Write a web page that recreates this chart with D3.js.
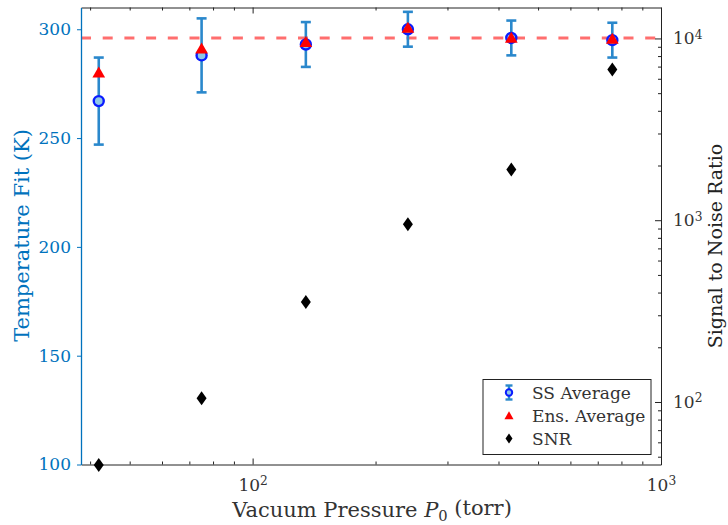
<!DOCTYPE html>
<html>
<head>
<meta charset="utf-8">
<script src="https://cdn.jsdelivr.net/npm/d3@7"></script>
<style>
  html, body { margin: 0; padding: 0; background: #fff; }
</style>
</head>
<body>
<svg id="chart" width="728" height="525"></svg>
<script>
// Measured chamber pressures (torr)
const pressure = [42, 75, 135, 240, 430, 760];
// Single-shot average temperature fits and their spread (K)
const ssAverage = [267, 288, 293, 300, 296, 295];
const ssError = [20, 17, 10.3, 8, 8, 8];
// Ensemble-average temperature fits (K)
const ensAverage = [280, 291, 294, 300.5, 296, 295.5];
// Signal to noise ratio for each pressure
const snr = [45, 105, 355, 950, 1900, 6750];
// Room temperature reference (K)
const referenceTemp = 296;

const tempTicks = [100, 150, 200, 250, 300];
const snrTicks = [100, 1000, 10000];
const pressureTicks = [100, 1000];
const legendLabels = ["SS Average", "Ens. Average", "SNR"];

const FONT = "'DejaVu Serif', serif";
const axisBlue = "#0072BD";
const barBlue = "#2a88cc";

const svg = d3.select("#chart");
const m = { left: 81, right: 661, top: 7.5, bottom: 464.5 };

const x = d3.scaleLog().domain([38, 1000]).range([m.left, m.right]);
const yT = d3.scaleLinear().domain([100, 310]).range([m.bottom, m.top]);
const yS = d3.scaleLog().domain([45.3, 14800]).range([m.bottom, m.top]);

// minor tick values for log axes
function minorTicks(scale) {
  const [a, b] = scale.domain();
  const out = [];
  for (let e = Math.floor(Math.log10(a)); e <= Math.ceil(Math.log10(b)); e++) {
    for (let k = 2; k <= 9; k++) {
      const v = k * Math.pow(10, e);
      if (v >= a && v <= b) out.push(v);
    }
  }
  return out;
}

function supLabel(sel) {
  sel.each(function(d) {
    const t = d3.select(this);
    t.text(null);
    t.append("tspan").text("10");
    t.append("tspan").attr("dy", "-0.45em").attr("font-size", "0.72em").text(Math.round(Math.log10(d)));
  });
}

const g = svg.append("g");

// reference line
g.append("line")
  .attr("x1", m.left).attr("x2", m.right)
  .attr("y1", yT(referenceTemp)).attr("y2", yT(referenceTemp))
  .attr("stroke", "#ff5555").attr("stroke-opacity", 0.85)
  .attr("stroke-width", 3).attr("stroke-dasharray", "10,11.7");

// bottom axis
const xAxis = g.append("g").attr("transform", `translate(0,${m.bottom})`)
  .call(d3.axisBottom(x).tickValues(pressureTicks).tickSize(-6).tickSizeOuter(0).tickPadding(10).tickFormat(() => ""));
xAxis.selectAll(".tick text").call(supLabel);
xAxis.selectAll("text").attr("font-size", 17).attr("fill", "#333").attr("dy", "0.95em");
xAxis.select(".domain").attr("stroke", "#222");
xAxis.selectAll("line").attr("stroke", "#222");
g.append("g").attr("transform", `translate(0,${m.bottom})`)
  .call(d3.axisBottom(x).tickValues(minorTicks(x)).tickSize(-3).tickFormat(() => ""))
  .call(s => { s.select(".domain").remove(); s.selectAll("line").attr("stroke", "#222"); });

// top axis
g.append("g").attr("transform", `translate(0,${m.top})`)
  .call(d3.axisTop(x).tickValues(pressureTicks).tickSize(-6).tickSizeOuter(0).tickFormat(() => ""))
  .call(s => { s.select(".domain").attr("stroke", "#222"); s.selectAll("line").attr("stroke", "#222"); });
g.append("g").attr("transform", `translate(0,${m.top})`)
  .call(d3.axisTop(x).tickValues(minorTicks(x)).tickSize(-3).tickFormat(() => ""))
  .call(s => { s.select(".domain").remove(); s.selectAll("line").attr("stroke", "#222"); });

// left axis (temperature)
const yAxisL = g.append("g").attr("transform", `translate(${m.left},0)`)
  .call(d3.axisLeft(yT).tickValues(tempTicks).tickSize(4).tickSizeOuter(0).tickPadding(6));
yAxisL.select(".domain").attr("stroke", axisBlue).attr("stroke-width", 1.3);
yAxisL.selectAll("line").attr("stroke", axisBlue);
yAxisL.selectAll("text").attr("font-size", 17).attr("fill", axisBlue);

// right axis (SNR)
const yAxisR = g.append("g").attr("transform", `translate(${m.right},0)`)
  .call(d3.axisRight(yS).tickValues(snrTicks).tickSize(-6).tickSizeOuter(0).tickPadding(12).tickFormat(() => ""));
yAxisR.selectAll(".tick text").call(supLabel);
yAxisR.selectAll("text").attr("font-size", 17).attr("fill", "#333");
yAxisR.select(".domain").attr("stroke", "#222");
yAxisR.selectAll("line").attr("stroke", "#222");
g.append("g").attr("transform", `translate(${m.right},0)`)
  .call(d3.axisRight(yS).tickValues(minorTicks(yS)).tickSize(-3).tickFormat(() => ""))
  .call(s => { s.select(".domain").remove(); s.selectAll("line").attr("stroke", "#222"); });

// axis titles
svg.append("text")
  .attr("transform", `translate(29,235.5) rotate(-90)`)
  .attr("text-anchor", "middle").attr("font-size", 21).attr("fill", axisBlue)
  .text("Temperature Fit (K)");
svg.append("text")
  .attr("transform", `translate(722,246) rotate(-90)`)
  .attr("text-anchor", "middle").attr("font-size", 19).attr("fill", "#222")
  .text("Signal to Noise Ratio");
const xl = svg.append("text")
  .attr("x", 372).attr("y", 517)
  .attr("text-anchor", "middle").attr("font-size", 21).attr("fill", "#333");
xl.append("tspan").text("Vacuum Pressure ");
xl.append("tspan").attr("font-style", "italic").text("P");
xl.append("tspan").attr("dy", "0.3em").attr("font-size", "0.7em").text("0");
xl.append("tspan").attr("dy", "-0.3em").text(" (torr)");

// error bars
const capW = 5;
const eb = g.append("g").selectAll("g").data(pressure).join("g")
  .attr("stroke", barBlue).attr("stroke-width", 2.6);
eb.append("line")
  .attr("x1", d => x(d)).attr("x2", d => x(d))
  .attr("y1", (d, i) => yT(ssAverage[i] - ssError[i]))
  .attr("y2", (d, i) => yT(ssAverage[i] + ssError[i]));
eb.append("line")
  .attr("x1", d => x(d) - capW).attr("x2", d => x(d) + capW)
  .attr("y1", (d, i) => yT(ssAverage[i] + ssError[i]))
  .attr("y2", (d, i) => yT(ssAverage[i] + ssError[i]));
eb.append("line")
  .attr("x1", d => x(d) - capW).attr("x2", d => x(d) + capW)
  .attr("y1", (d, i) => yT(ssAverage[i] - ssError[i]))
  .attr("y2", (d, i) => yT(ssAverage[i] - ssError[i]));

// single-shot average markers
g.append("g").selectAll("circle").data(pressure).join("circle")
  .attr("cx", d => x(d)).attr("cy", (d, i) => yT(ssAverage[i]))
  .attr("r", 5).attr("fill", "#8fc7e6").attr("stroke", "#0a1cff").attr("stroke-width", 2.4);

// ensemble average markers
const tri = d3.symbol().type(d3.symbolTriangle).size(70);
g.append("g").selectAll("path").data(pressure).join("path")
  .attr("d", tri)
  .attr("transform", (d, i) => `translate(${x(d)},${yT(ensAverage[i]) + 1})`)
  .attr("fill", "#ff0000");

// SNR markers
const diamond = "M0,-7L5,0L0,7L-5,0Z";
g.append("g").selectAll("path").data(pressure).join("path")
  .attr("d", diamond)
  .attr("transform", (d, i) => `translate(${x(d)},${yS(snr[i])})`)
  .attr("fill", "#000");

// legend
const lg = svg.append("g").attr("transform", "translate(483,379.5)");
lg.append("rect").attr("width", 168).attr("height", 75)
  .attr("fill", "#fff").attr("stroke", "#222").attr("stroke-width", 1);
const rowY = [13, 36, 59];
legendLabels.forEach((t, i) => {
  lg.append("text").attr("x", 49).attr("y", rowY[i] + 6)
    .attr("font-size", 17).attr("fill", "#333").text(t);
});
const sx = 26;
lg.append("line").attr("x1", sx).attr("x2", sx).attr("y1", rowY[0] - 7).attr("y2", rowY[0] + 7)
  .attr("stroke", barBlue).attr("stroke-width", 2.4);
[rowY[0] - 7, rowY[0] + 7].forEach(yy => lg.append("line")
  .attr("x1", sx - 3.5).attr("x2", sx + 3.5).attr("y1", yy).attr("y2", yy)
  .attr("stroke", barBlue).attr("stroke-width", 2.4));
lg.append("circle").attr("cx", sx).attr("cy", rowY[0]).attr("r", 3.2)
  .attr("fill", "#8fc7e6").attr("stroke", "#0a1cff").attr("stroke-width", 2);
lg.append("path").attr("d", d3.symbol().type(d3.symbolTriangle).size(36))
  .attr("transform", `translate(${sx},${rowY[1] + 1})`).attr("fill", "#ff0000");
lg.append("path").attr("d", "M0,-5L3.5,0L0,5L-3.5,0Z")
  .attr("transform", `translate(${sx},${rowY[2]})`).attr("fill", "#000");

// apply the serif face to every label
svg.selectAll("text").attr("font-family", FONT);
</script>
</body>
</html>
